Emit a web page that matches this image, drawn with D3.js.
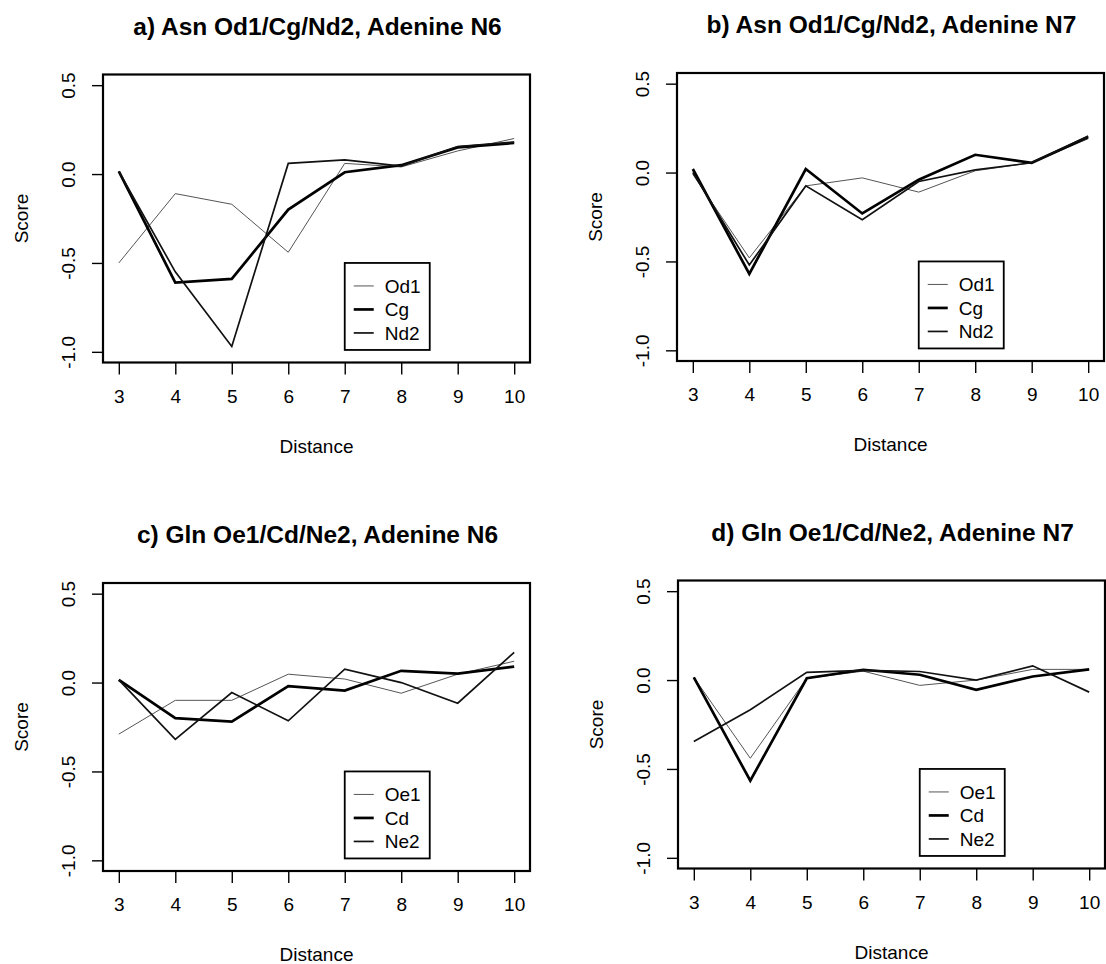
<!DOCTYPE html>
<html>
<head>
<meta charset="utf-8">
<script src="https://cdn.jsdelivr.net/npm/d3@7"></script>
<style>
  html, body { margin: 0; padding: 0; background: #fff; }
  svg { display: block; font-family: "Liberation Sans", Arial, Helvetica, sans-serif; }
</style>
</head>
<body>
<svg id="chart" width="1106" height="964"></svg>
<script>
// Distance bins shared by every panel
const distances = [3, 4, 5, 6, 7, 8, 9, 10];
const yTicks = [0.5, 0.0, -0.5, -1.0];

// a) Asn vs Adenine N6
const asnN6_Od1 = [-0.50, -0.11, -0.17, -0.44, 0.06, 0.04, 0.13, 0.20];
const asnN6_Cg  = [0.015, -0.61, -0.59, -0.20, 0.01, 0.05, 0.15, 0.175];
const asnN6_Nd2 = [0.015, -0.55, -0.97, 0.06, 0.08, 0.045, 0.155, 0.18];

// b) Asn vs Adenine N7
const asnN7_Od1 = [-0.01, -0.48, -0.075, -0.03, -0.11, 0.01, 0.055, 0.19];
const asnN7_Cg  = [0.02, -0.57, 0.02, -0.23, -0.04, 0.10, 0.055, 0.20];
const asnN7_Nd2 = [0.0, -0.52, -0.075, -0.265, -0.05, 0.015, 0.055, 0.205];

// c) Gln vs Adenine N6
const glnN6_Oe1 = [-0.29, -0.10, -0.10, 0.047, 0.02, -0.06, 0.047, 0.12];
const glnN6_Cd  = [0.015, -0.20, -0.22, -0.02, -0.045, 0.066, 0.05, 0.09];
const glnN6_Ne2 = [0.015, -0.32, -0.056, -0.215, 0.075, 0.0, -0.116, 0.17];

// d) Gln vs Adenine N7
const glnN7_Oe1 = [0.015, -0.44, 0.01, 0.05, -0.03, 0.0, 0.06, 0.06];
const glnN7_Cd  = [0.015, -0.566, 0.01, 0.058, 0.03, -0.055, 0.02, 0.06];
const glnN7_Ne2 = [-0.346, -0.167, 0.043, 0.055, 0.048, 0.0, 0.08, -0.068];

const titles = [
  "a) Asn Od1/Cg/Nd2, Adenine N6",
  "b) Asn Od1/Cg/Nd2, Adenine N7",
  "c) Gln Oe1/Cd/Ne2, Adenine N6",
  "d) Gln Oe1/Cd/Ne2, Adenine N7"
];
const asnNames = ["Od1", "Cg", "Nd2"];
const glnNames = ["Oe1", "Cd", "Ne2"];

// line styles: thin grey, thick black, medium black
const styles = [
  { color: "#555", width: 1.0 },
  { color: "#000", width: 2.7 },
  { color: "#111", width: 1.7 }
];

const panels = [
  { title: titles[0], names: asnNames, series: [asnN6_Od1, asnN6_Cg, asnN6_Nd2], left: 103, top: 74.5 },
  { title: titles[1], names: asnNames, series: [asnN7_Od1, asnN7_Cg, asnN7_Nd2], left: 677, top: 73 },
  { title: titles[2], names: glnNames, series: [glnN6_Oe1, glnN6_Cd, glnN6_Ne2], left: 103, top: 583 },
  { title: titles[3], names: glnNames, series: [glnN7_Oe1, glnN7_Cd, glnN7_Ne2], left: 678, top: 580.5 }
];

const W = 427, H = 288;
const FS = 19;
const svg = d3.select("#chart");

panels.forEach(p => {
  const g = svg.append("g").attr("transform", `translate(${p.left},${p.top})`);

  // R-style 4% padding around the data range
  const x = d3.scaleLinear().domain([2.72, 10.28]).range([0, W]);
  const y = d3.scaleLinear().domain([-1.06, 0.56]).range([H, 0]);

  // title
  g.append("text")
    .attr("x", W / 2 + 1).attr("y", -40)
    .attr("text-anchor", "middle")
    .attr("font-size", 24.5).attr("font-weight", "bold")
    .text(p.title);

  // x axis
  const xa = g.append("g").attr("transform", `translate(0,${H})`)
    .call(d3.axisBottom(x).tickValues(distances).tickFormat(d3.format("d"))
      .tickSizeInner(12).tickSizeOuter(0).tickPadding(15));
  xa.select(".domain").remove();
  xa.selectAll("line").attr("stroke", "#000").attr("stroke-width", 1.4);
  xa.selectAll("text").attr("font-size", FS).attr("fill", "#000")
    .attr("font-family", "Liberation Sans, Arial, sans-serif");

  // y axis with labels rotated like base R graphics
  const ya = g.append("g")
    .call(d3.axisLeft(y).tickValues(yTicks).tickFormat(d => d.toFixed(1))
      .tickSizeInner(11).tickSizeOuter(0));
  ya.select(".domain").remove();
  ya.selectAll("line").attr("stroke", "#000").attr("stroke-width", 1.4);
  ya.selectAll("text")
    .attr("x", 0).attr("y", -35).attr("dy", "0.35em")
    .attr("transform", "rotate(-90)")
    .attr("text-anchor", "middle")
    .attr("font-size", FS).attr("fill", "#000")
    .attr("font-family", "Liberation Sans, Arial, sans-serif");

  // axis titles
  g.append("text")
    .attr("x", W / 2).attr("y", H + 90)
    .attr("text-anchor", "middle").attr("font-size", FS)
    .text("Distance");
  g.append("text")
    .attr("transform", `translate(${-82},${H / 2}) rotate(-90)`)
    .attr("dy", "0.35em")
    .attr("text-anchor", "middle").attr("font-size", FS)
    .text("Score");

  // series lines
  const line = d3.line().x((d, i) => x(distances[i])).y(d => y(d));
  p.series.forEach((s, k) => {
    g.append("path")
      .datum(s)
      .attr("d", line)
      .attr("fill", "none")
      .attr("stroke", styles[k].color)
      .attr("stroke-width", styles[k].width)
      .attr("stroke-linejoin", "miter");
  });

  // plot frame
  g.append("rect")
    .attr("x", 0).attr("y", 0).attr("width", W).attr("height", H)
    .attr("fill", "none").attr("stroke", "#000").attr("stroke-width", 2.2);

  // legend anchored at (7, -0.5)
  const lx = x(7), ly = y(-0.5);
  const lg = g.append("g").attr("transform", `translate(${lx},${ly})`);
  lg.append("rect")
    .attr("width", 85).attr("height", 87)
    .attr("fill", "#fff").attr("stroke", "#000").attr("stroke-width", 1.8);
  p.names.forEach((n, k) => {
    const cy = 23 + k * 23.5;
    lg.append("line")
      .attr("x1", 9).attr("x2", 29).attr("y1", cy).attr("y2", cy)
      .attr("stroke", styles[k].color).attr("stroke-width", styles[k].width);
    lg.append("text")
      .attr("x", 40).attr("y", cy).attr("dy", "0.35em")
      .attr("font-size", FS)
      .text(n);
  });
});
</script>
</body>
</html>
